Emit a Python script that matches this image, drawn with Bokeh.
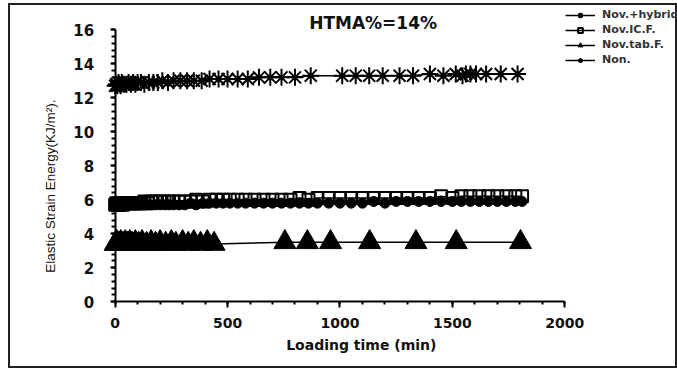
import math
from bokeh.plotting import figure
from bokeh.models import Range1d, Legend, LegendItem, Label
from bokeh.embed import file_html
from bokeh.resources import INLINE

# ---------------- data ----------------
dense_time = [0, 5, 10, 15, 20, 25, 30, 35, 40, 50, 60, 70, 80, 90, 100, 115, 130, 145,
              160, 180, 200, 220, 240, 260, 285, 310, 335, 360, 390, 420, 450, 480, 510,
              545, 580, 620, 660, 700, 740, 780, 820, 860, 900, 950, 1000, 1050, 1100,
              1150, 1200, 1250, 1300, 1350, 1400, 1450, 1500, 1540, 1580, 1620, 1660,
              1700, 1740, 1780, 1810]
hybrid_val = [5.6, 5.7, 5.6, 5.7, 5.6, 5.7, 5.7, 5.6, 5.7, 5.7, 5.7, 5.7, 5.7, 5.7, 5.7, 5.7, 5.7, 5.7,
              5.7, 5.7, 5.7, 5.7, 5.7, 5.7, 5.7, 5.7, 5.8, 5.7, 5.8, 5.8, 5.8, 5.8, 5.8,
              5.8, 5.8, 5.8, 5.8, 5.8, 5.8, 5.8, 5.8, 5.8, 5.8, 5.8, 5.8, 5.8, 5.8,
              5.9, 5.8, 5.9, 5.9, 5.9, 5.9, 5.9, 5.9, 5.9, 5.9, 5.9, 5.9,
              5.9, 5.9, 5.9, 5.9]
icf_val = [5.7, 5.8, 5.7, 5.8, 5.7, 5.8, 5.8, 5.7, 5.8, 5.8, 5.8, 5.8, 5.8, 5.8, 5.8, 5.8, 5.9, 5.8,
           5.9, 5.9, 5.9, 5.9, 5.9, 5.9, 5.9, 5.9, 5.9, 6.0, 5.9, 6.0, 6.0, 6.0, 6.0,
           6.0, 6.0, 6.0, 6.0, 6.0, 6.0, 6.0, 6.1, 6.0, 6.1, 6.1, 6.1, 6.1, 6.1,
           6.1, 6.1, 6.1, 6.1, 6.1, 6.1, 6.2, 6.1, 6.2, 6.2, 6.2, 6.2,
           6.2, 6.2, 6.2, 6.2]

tab_time = [0, 8, 16, 25, 35, 45, 55, 65, 75, 90, 105, 120, 140, 160, 180, 200, 225, 250,
            270, 300, 325, 350, 380, 410, 440, 755, 855, 958, 1132, 1338, 1517, 1803]
tab_val = [3.4, 3.5, 3.4, 3.5, 3.4, 3.5, 3.4, 3.5, 3.4, 3.5, 3.4, 3.5, 3.4, 3.5, 3.4, 3.5, 3.4, 3.5,
           3.4, 3.5, 3.4, 3.5, 3.4, 3.5, 3.4, 3.5, 3.5, 3.5, 3.5, 3.5, 3.5, 3.5]

non_time = [0, 5, 10, 15, 20, 25, 30, 40, 50, 60, 70, 80, 90, 100, 115, 130, 150, 170, 190,
            210, 235, 260, 290, 320, 350, 385, 420, 460, 500, 545, 590, 640, 690, 740, 800,
            870, 1010, 1070, 1130, 1190, 1265, 1325, 1400, 1460, 1515, 1545, 1560, 1580,
            1605, 1650, 1715, 1790]
non_val = [12.7, 12.8, 12.7, 12.9, 12.8, 12.7, 12.9, 12.8, 12.8, 12.9, 12.8, 12.9, 12.8, 12.9,
           12.9, 12.8, 12.9, 12.9, 12.9, 13.0, 12.9, 13.0, 13.0, 13.0, 13.0, 13.0, 13.1, 13.1,
           13.1, 13.1, 13.1, 13.2, 13.2, 13.2, 13.2, 13.3, 13.3, 13.3, 13.3, 13.3, 13.3, 13.3,
           13.4, 13.3, 13.4, 13.3, 13.4, 13.4, 13.4, 13.4, 13.4, 13.4]

series_names = ["Nov.+hybrid", "Nov.IC.F.", "Nov.tab.F.", "Non."]
title_text = "HTMA%=14%"
x_title = "Loading time (min)"
y_title = "Elastic Strain Energy(KJ/m\u00b2)."

# ---------------- figure ----------------
p = figure(width=665, height=361, output_backend="svg", toolbar_location=None,
           x_range=Range1d(-465.3, 2510.1), y_range=Range1d(-4.045, 17.428),
           min_border=0)
p.styles = {"border": "2px solid #222", "margin-left": "8px", "margin-top": "3px",
            "box-sizing": "content-box"}
p.outline_line_color = None
p.xgrid.visible = False
p.ygrid.visible = False
p.background_fill_color = "white"
p.border_fill_color = "white"

tick_font = "DejaVu Sans"
for ax in (p.xaxis[0], p.yaxis[0]):
    ax.fixed_location = 0
    ax.axis_line_color = "black"
    ax.axis_line_width = 2
    ax.major_tick_line_color = "black"
    ax.minor_tick_line_color = "black"
    ax.major_tick_line_width = 2
    ax.minor_tick_line_width = 2
    ax.major_tick_in = 0
    ax.minor_tick_in = 0
    ax.major_label_text_font = tick_font
    ax.major_label_text_font_style = "bold"
    ax.major_label_text_color = "#111"

p.xaxis.bounds = (0, 2000)
p.yaxis.bounds = (0, 16)
p.xaxis[0].ticker.desired_num_ticks = 6
p.xaxis[0].ticker.num_minor_ticks = 5
p.yaxis[0].ticker.num_minor_ticks = 5
p.xaxis.major_tick_out = 6
p.xaxis.minor_tick_out = 3
p.yaxis.major_tick_out = 5
p.yaxis.minor_tick_out = 4
p.xaxis.major_label_text_font_size = "14px"
p.yaxis.major_label_text_font_size = "15px"
p.xaxis.major_label_standoff = 10
p.yaxis.major_label_standoff = 16

# axis titles placed with the data scales
p.add_layout(Label(x=1095, y=-2.55, text=x_title, text_font="DejaVu Sans",
                   text_font_style="bold", text_font_size="14px", text_align="center",
                   text_baseline="middle", text_color="#111"))
p.add_layout(Label(x=-286, y=6.8, text=y_title, text_font="Liberation Sans",
                   text_font_size="13.5px", text_align="center", angle=math.pi / 2,
                   text_baseline="middle", text_color="#111"))

# series
l1 = p.line(dense_time, hybrid_val, line_color="black", line_width=1.5)
m1 = p.scatter(dense_time, hybrid_val, marker="circle", size=10, fill_color="black",
               line_color="black")
l2 = p.line(dense_time, icf_val, line_color="black", line_width=1.5)
m2 = p.scatter(dense_time, icf_val, marker="square", size=12, fill_color="white",
               fill_alpha=0.0, line_color="black", line_width=2)
l3 = p.line(tab_time, tab_val, line_color="black", line_width=1.5)
m3 = p.scatter(tab_time, tab_val, marker="triangle", size=22, fill_color="black",
               line_color="black")
l4 = p.line(non_time, non_val, line_color="black", line_width=1.5)
m4 = p.scatter(non_time, non_val, marker="asterisk", size=17, line_color="black",
               line_width=2)

# legend location measured from the frame's bottom-left corner (canvas px)
legend = Legend(items=[
    LegendItem(label=series_names[0], renderers=[l1, m1]),
    LegendItem(label=series_names[1], renderers=[l2, m2]),
    LegendItem(label=series_names[2], renderers=[l3, m3]),
    LegendItem(label=series_names[3], renderers=[l4, m4]),
], location=(555, 304), border_line_color=None, background_fill_alpha=0.0,
    label_text_font="DejaVu Sans", label_text_font_style="bold",
    label_text_font_size="11px", label_text_color="#333",
    glyph_width=30, glyph_height=12, spacing=2, padding=0, margin=0,
    label_standoff=7, label_height=12)
p.add_layout(legend, "center")

p.add_layout(Label(x=863, y=16.42, text=title_text, text_font="DejaVu Sans",
                   text_font_style="bold", text_font_size="17px",
                   text_baseline="middle", text_color="#111"))

open("out.html", "w").write(file_html(p, INLINE))
